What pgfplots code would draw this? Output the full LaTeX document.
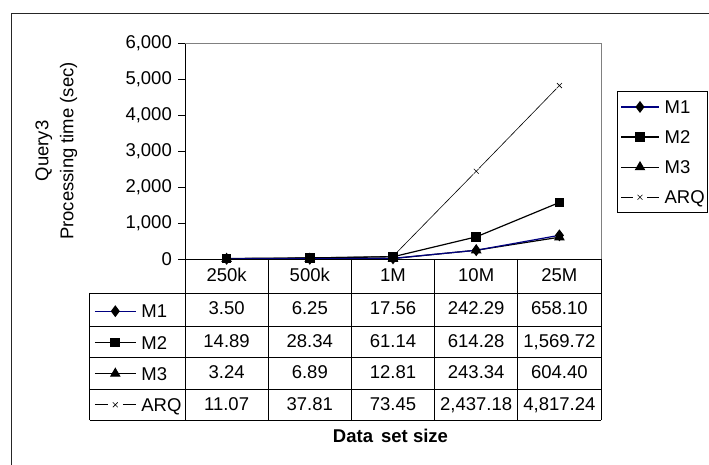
\documentclass[border=0pt]{standalone}
\usepackage{pgfplots}
\pgfplotsset{compat=1.18}
\usepackage{fontspec}
\setmainfont{Liberation Sans}
\newcommand\lf{\fontsize{18.5bp}{22bp}\selectfont}
\definecolor{navyM}{HTML}{000080}
\definecolor{frameg}{HTML}{808080}
\pgfplotsset{
  lineA/.style={legend image code/.code={\draw[mark repeat=2,mark phase=2,##1] plot coordinates {(0bp,0bp) (19bp,0bp) (38bp,0bp)};}},
  lineB/.style={legend image code/.code={\draw[mark repeat=2,mark phase=2,##1] plot coordinates {(0bp,0bp) (20.5bp,0bp) (41bp,0bp)};}},
  arqA/.style={legend image code/.code={\draw[##1,mark=none] (0bp,0bp)--(12bp,0bp) (26bp,0bp)--(38bp,0bp); \draw[##1] plot coordinates {(19bp,0bp)};}},
  arqB/.style={legend image code/.code={\draw[##1,mark=none] (0bp,0bp)--(13bp,0bp) (28bp,0bp)--(41bp,0bp); \draw[##1] plot coordinates {(20.5bp,0bp)};}},
  sM1/.style={navyM, line width=1.2bp, mark=diamond*, mark size=5bp, mark options={fill=black, draw=black, solid}},
  sM2/.style={black, line width=1.2bp, mark=square*, mark size=4.25bp, mark options={fill=black, draw=black, solid}},
  sM3/.style={black, line width=1.2bp, mark=triangle*, mark size=5bp, mark options={fill=black, draw=black, solid}},
  sARQ/.style={black, line width=0.6bp, mark=x, mark size=3.5bp, mark options={solid, line width=0.6bp}},
}
\begin{document}
\begin{tikzpicture}[x=1bp,y=1bp]
\path[use as bounding box] (0,0) rectangle (709,465);
\begin{axis}[
  at={(185bp,206bp)}, anchor=south west,
  width=416bp, height=216bp, scale only axis,
  xmin=-0.5, xmax=4.5, ymin=0, ymax=6000,
  axis x line=none, axis y line=left,
  axis line style={-, black, line width=0.8bp},
  ytick={0,1000,2000,3000,4000,5000,6000},
  yticklabels={{0},{1,000},{2,000},{3,000},{4,000},{5,000},{6,000}},
  tick align=outside, major tick length=7bp,
  ytick style={black, line width=0.8bp},
  yticklabel style={font=\lf, anchor=east, inner sep=0pt, xshift=-6bp},
  lineA,
  legend cell align=left,
  legend style={at={(1.03846,0.77778)}, anchor=north west, draw=black, line width=0.8bp,
    inner xsep=3bp, inner ysep=6.8bp, row sep=12.6bp, column sep=5bp, font=\lf,
    nodes={inner sep=0pt, text height=15.5bp, text depth=2bp}},
]
\addplot[forget plot, sARQ, mark=none] coordinates {(0,11.07) (1,37.81) (2,73.45) (3,2437.18) (4,4817.24)};
\addplot[forget plot, only marks, color=white, mark=*, mark size=4bp, mark options={draw=white, fill=white}] coordinates {(0,11.07) (1,37.81) (2,73.45) (3,2437.18) (4,4817.24)};
\addplot[forget plot, sARQ, only marks] coordinates {(0,11.07) (1,37.81) (2,73.45) (3,2437.18) (4,4817.24)};
\addplot[forget plot, sM3] coordinates {(0,3.24) (1,6.89) (2,12.81) (3,243.34) (4,604.40)};
\addplot[forget plot, sM2] coordinates {(0,14.89) (1,28.34) (2,61.14) (3,614.28) (4,1569.72)};
\addplot[forget plot, sM1] coordinates {(0,3.50) (1,6.25) (2,17.56) (3,242.29) (4,658.10)};
\addlegendimage{sM1}\addlegendentry{M1}
\addlegendimage{sM2}\addlegendentry{M2}
\addlegendimage{sM3}\addlegendentry{M3}
\addlegendimage{sARQ, arqA}\addlegendentry{ARQ}
\end{axis}
\begin{axis}[
  at={(185bp,206bp)}, anchor=south west,
  width=416bp, height=216bp, scale only axis,
  xmin=-0.5, xmax=4.5, ymin=0, ymax=6000,
  hide axis,
  lineB,
  legend cell align=left,
  legend style={at={(-0.21875,-0.20023)}, anchor=north west, draw=none, fill=none,
    inner sep=0pt, row sep=13.7bp, column sep=5bp, font=\lf,
    nodes={inner sep=0pt, text height=15.5bp, text depth=2bp}},
]
\addlegendimage{sM1}\addlegendentry{M1}
\addlegendimage{sM2}\addlegendentry{M2}
\addlegendimage{sM3}\addlegendentry{M3}
\addlegendimage{sARQ, arqB}\addlegendentry{ARQ}
\end{axis}
% plot frame
\draw[frameg, line width=0.8bp] (185,422) -- (601,422) -- (601,206);
% table grid
\draw[black, line width=0.8bp] (185,206) -- (601,206);
\foreach \xx in {185,268.2,351.4,434.6,517.8,601} {\draw[black, line width=0.8bp] (\xx,206) -- (\xx,45);}
\foreach \yy in {172,139,107.3,75.7,45} {\draw[black, line width=0.8bp] (89.7,\yy) -- (601,\yy);}
\draw[black, line width=0.8bp] (89.7,172) -- (89.7,45);
% table text
\begin{scope}[every node/.style={font=\lf, anchor=base, inner sep=0pt}]
\node at (226.6,183.3) {250k};
\node at (309.8,183.3) {500k};
\node at (393.0,183.3) {1M};
\node at (476.2,183.3) {10M};
\node at (559.4,183.3) {25M};
\node at (226.6,150) {3.50};
\node at (309.8,150) {6.25};
\node at (393.0,150) {17.56};
\node at (476.2,150) {242.29};
\node at (559.4,150) {658.10};
\node at (226.6,117.7) {14.89};
\node at (309.8,117.7) {28.34};
\node at (393.0,117.7) {61.14};
\node at (476.2,117.7) {614.28};
\node at (559.4,117.7) {1,569.72};
\node at (226.6,86) {3.24};
\node at (309.8,86) {6.89};
\node at (393.0,86) {12.81};
\node at (476.2,86) {243.34};
\node at (559.4,86) {604.40};
\node at (226.6,54.3) {11.07};
\node at (309.8,54.3) {37.81};
\node at (393.0,54.3) {73.45};
\node at (476.2,54.3) {2,437.18};
\node at (559.4,54.3) {4,817.24};
\node[font=\lf\bfseries] at (390.5,22.3) {Data\hspace{3bp} set size};
\node[rotate=90] at (48.3,314) {Query3};
\node[rotate=90] at (73.3,314) {Processing time (sec)};
\end{scope}
% outer frame
\draw[black!85, line width=0.8bp] (11,-5) -- (11,452) -- (715,452);
\end{tikzpicture}
\end{document}
